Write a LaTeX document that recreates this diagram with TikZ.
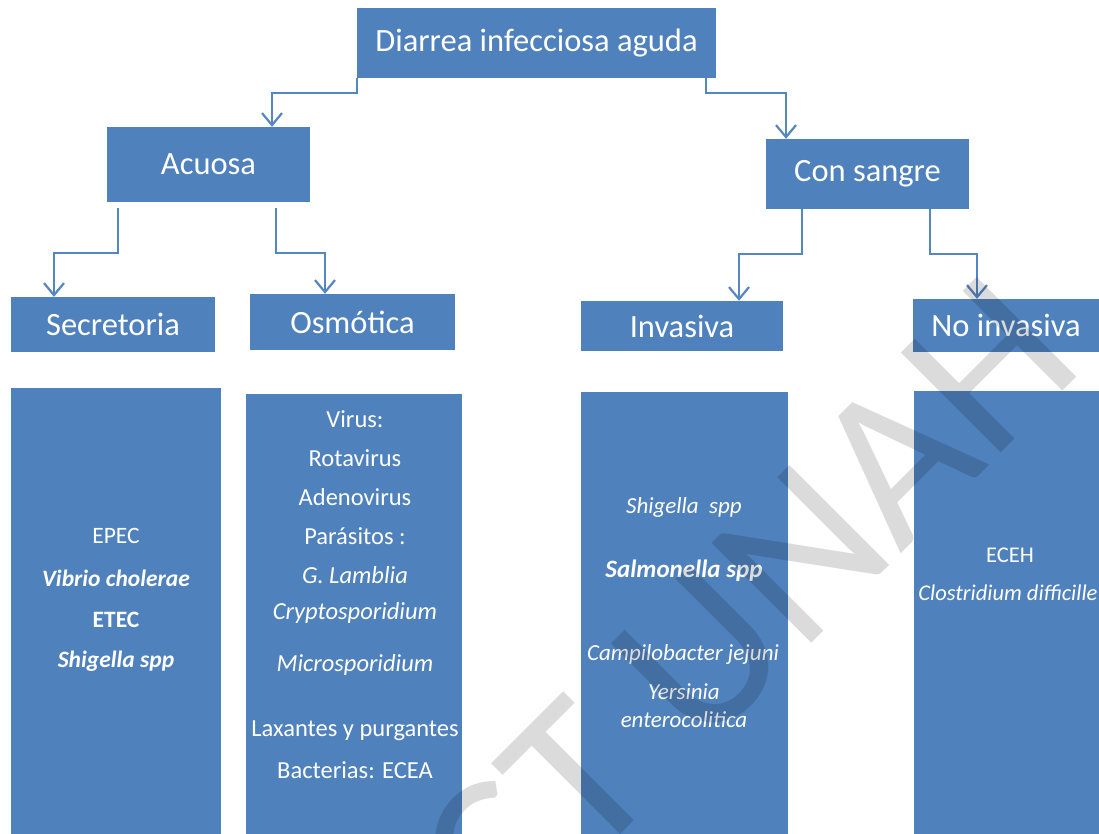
\documentclass[tikz,border=0pt]{standalone}
\usepackage{fontspec}
\setmainfont{Carlito}
\usetikzlibrary{arrows.meta,calc}
\definecolor{boxblue}{RGB}{79,129,189}
\definecolor{lineblue}{RGB}{84,134,194}
\begin{document}
\begin{tikzpicture}[x=1pt,y=-1pt,
  box/.style={fill=boxblue, draw=none, text=white, inner sep=0pt, font=\fontsize{32.5}{32.5}\selectfont},
  col/.style={fill=boxblue, draw=none, inner sep=0pt, anchor=north west},
  lbl/.style={text=white, inner sep=0pt},
  la/.style={lbl, font=\fontsize{23.5}{23.5}\selectfont},
  lb/.style={lbl, font=\fontsize{24.5}{24.5}\selectfont},
  lc/.style={lbl, font=\fontsize{23}{23}\selectfont},
  ld/.style={lbl, font=\fontsize{22.5}{22.5}\selectfont},
  conn/.style={draw=lineblue, line width=2.2pt, -{Straight Barb[length=12pt,width=20pt]}},
  wm/.style={text=black, text opacity=0.14, inner sep=0pt, font=\fontsize{220}{220}\selectfont}]
\useasboundingbox (0,0) rectangle (1099,833);
\fill[white] (0,0) rectangle (1099,833);

% header boxes
\node[box, minimum width=359pt, minimum height=70pt] (top) at (536.5,43) {Diarrea infecciosa aguda};
\node[box, minimum width=203pt, minimum height=75pt] (acu) at (208.5,164.5) {Acuosa};
\node[box, minimum width=203pt, minimum height=70pt] (san) at (867.5,174) {Con sangre};
\node[box, minimum width=204pt, minimum height=55pt] (sec) at (113,324.5) {Secretoria};
\node[box, minimum width=205pt, minimum height=56pt] (osm) at (352.5,322) {Osmótica};
\node[box, minimum width=202pt, minimum height=50pt] (inv) at (682,326) {Invasiva};
\node[box, minimum width=186pt, minimum height=53pt] (noi) at (1006,325.5) {No invasiva};

% columns
\node[col, minimum width=210pt, minimum height=446pt] (c1) at (11,388) {};
\node[col, minimum width=216pt, minimum height=440pt] (c2) at (246,394) {};
\node[col, minimum width=207pt, minimum height=442pt] (c3) at (581,392) {};
\node[col, minimum width=190pt, minimum height=443pt] (c4) at (914,391) {};

% column texts
\node[la] (t11) at (116,536) {EPEC};
\node[la] (t12) at (116,578) {\bfseries\itshape Vibrio cholerae};
\node[la] (t13) at (116,620) {\bfseries ETEC};
\node[la] (t14) at (116,661) {\bfseries\itshape Shigella spp};

\node[lb] (t21) at (355,419) {Virus:};
\node[lb] (t22) at (355,458) {Rotavirus};
\node[lb] (t23) at (355,497) {Adenovirus};
\node[lb] (t24) at (355,536) {Parásitos :};
\node[lb] (t25) at (355,575) {\itshape G. Lamblia};
\node[lb] (t26) at (355,613) {\itshape Cryptosporidium};
\node[lb] (t27) at (355,665) {\itshape Microsporidium};
\node[lb] (t28) at (355,731) {Laxantes y purgantes};
\node[lb] (t29) at (355,770) {Bacterias: ECEA};

\node[lc] (t31) at (684,507) {\itshape Shigella\ \ spp};
\node[lc, font=\fontsize{25}{25}\selectfont] (t32) at (684,571) {\bfseries\itshape Salmonella spp};
\node[lc] (t33) at (683,654) {\itshape Campilobacter jejuni};
\node[lc] (t34) at (684,692) {\itshape Yersinia};
\node[lc] (t35) at (684,720) {\itshape enterocolitica};

\node[ld] (t41) at (1010,555) {ECEH};
\node[ld] (t42) at (1008,593) {\itshape Clostridium difficille};

% connectors
\draw[conn] (top.south west) -- ++(0,15) -| ([xshift=63.5pt]acu.north);
\draw[conn] ([xshift=-10.5pt]top.south east) -- ++(0,15) -| ([xshift=-81.5pt]san.north);
\draw[conn] ([xshift=11pt,yshift=-6pt]acu.south west) -- ++(0,45) -| ([xshift=-59pt]sec.north);
\draw[conn] ([xshift=-34pt,yshift=-6pt]acu.south east) -- ++(0,45) -| ([xshift=-27.5pt]osm.north);
\draw[conn] ([xshift=36pt]san.south west) -- ++(0,45) -| ([xshift=57pt]inv.north);
\draw[conn] ([xshift=-39pt]san.south east) -- ++(0,45) -| ([xshift=-29pt]noi.north);

% watermark
\node[wm, rotate=45] (wmk) at (747,608) {CT UNAH};
\end{tikzpicture}
\end{document}
